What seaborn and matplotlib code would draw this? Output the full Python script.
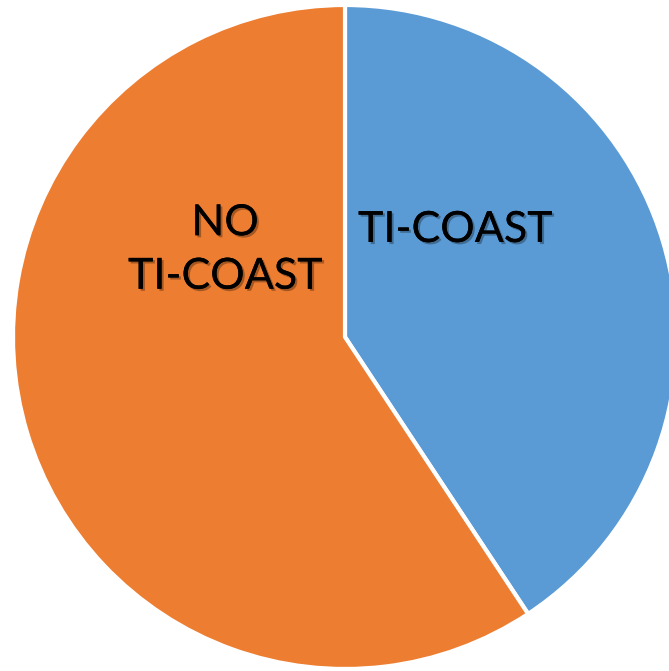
import matplotlib
matplotlib.use("Agg")
import matplotlib.pyplot as plt
import matplotlib.patheffects as pe
import seaborn as sns

# valores
labels = ["TI-COAST", "NO\nTI-COAST"]
shares = [40.7, 59.3]
colors = ["#5B9BD5", "#ED7D31"]

sns.set_style("white")
plt.rcParams["font.family"] = ["Lato", "DejaVu Sans"]

W, H = 669, 671
fig = plt.figure(figsize=(W / 100, H / 100), dpi=100)
ax = fig.add_axes([0, 0, 1, 1])

# centro e raio em pixels
cx, cy, r = 345, 337, 332

ax.pie(shares, colors=colors, startangle=90, counterclock=False,
       radius=1, center=(0, 0),
       wedgeprops=dict(edgecolor="white", linewidth=3))
ax.set_xlim(-cx / r, (W - cx) / r)
ax.set_ylim(-(H - cy) / r, cy / r)
ax.axis("off")

shadow = [pe.withSimplePatchShadow(offset=(1.5, -1.5), shadow_rgbFace="black", alpha=0.3),
          pe.Normal()]
pos = [(455, 230), (225, 250)]
for lab, (px, py) in zip(labels, pos):
    ax.text(px / W, 1 - py / H, lab, transform=ax.transAxes,
            ha="center", va="center", fontsize=31, color="black",
            linespacing=1.5, path_effects=shadow)

fig.savefig("out.png", dpi=100)
